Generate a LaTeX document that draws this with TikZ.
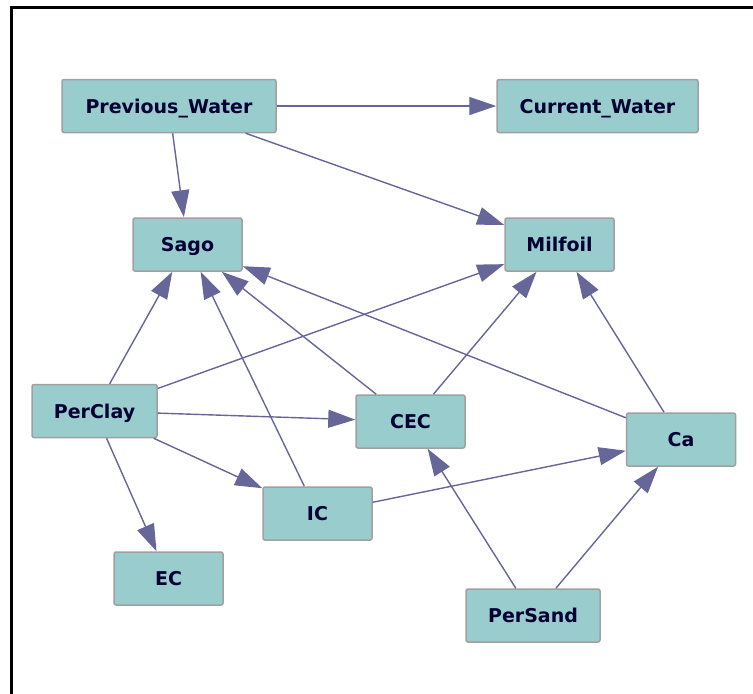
\documentclass[tikz,border=0pt]{standalone}
\usepackage{fontspec}
\setmainfont{DejaVu Sans}
\usetikzlibrary{arrows.meta}
\definecolor{boxfill}{RGB}{153,204,204}
\definecolor{boxline}{RGB}{160,160,160}
\definecolor{edgecol}{RGB}{102,102,153}
\definecolor{textcol}{RGB}{0,0,51}
\newcommand{\boxw}{109pt}
\newcommand{\boxh}{53pt}

\tikzset{
    varbox/.style = {draw=boxline, fill=boxfill, line width=1.5pt, rounded corners=2pt,
        minimum width=\boxw, minimum height=\boxh, inner sep=0pt, text=textcol,
        text height=14pt, text depth=0pt,
        font=\fontsize{19}{22}\selectfont\bfseries},
    edge/.style = {draw=edgecol, line width=1.4pt, -{Triangle[length=27pt,width=18pt]}}
}

\begin{document}
\begin{tikzpicture}[x=1pt,y=-1pt]
            \useasboundingbox (0,0) rectangle (753,694);
            %\draw[help lines] (0,0) grid[step=50] (753,694);
            \draw[line width=3pt] (11,694) -- (11,7) -- (753,7);
            
            \node[varbox, minimum width=214pt] (pw) at (169,106) {Previous\_Water};
            \node[varbox, minimum width=201pt] (cw) at (597.5,106) {Current\_Water};
            
            \node[varbox] (sago) at (187.5,244.5) {Sago};
            \node[varbox] (milfoil) at (559.5,244.5) {Milfoil};
            
            \node[varbox, minimum width=125pt] (perclay) at (94.5,411) {PerClay};
            \node[varbox] (cec) at (410.5,421.5) {CEC};
            \node[varbox] (ca) at (681,439.5) {Ca};
            
            \node[varbox] (ic) at (317.5,513.5) {IC};
            \node[varbox] (ec) at (168.5,578.5) {EC};
            \node[varbox, minimum width=134pt] (persand) at (533,615.5) {PerSand};
            
            \draw[edge] (pw) -- (cw);
            \draw[edge] (pw) -- (sago);
            \draw[edge] (pw) -- (milfoil);
            
            \draw[edge] (perclay) -- (sago);
            \draw[edge] (perclay) -- (milfoil);
            \draw[edge] (perclay) -- (cec);
            \draw[edge] (perclay) -- (ic);
            \draw[edge] (perclay) -- (ec);
            
            \draw[edge] (ic) -- (sago);
            \draw[edge] (ic) -- (ca);
            
            \draw[edge] (cec) -- (sago);
            \draw[edge] (cec) -- (milfoil);
            
            \draw[edge] (ca) -- (sago);
            \draw[edge] (ca) -- (milfoil);
            
            \draw[edge] (persand) -- (cec);
            \draw[edge] (persand) -- (ca);
\end{tikzpicture}
\end{document}
